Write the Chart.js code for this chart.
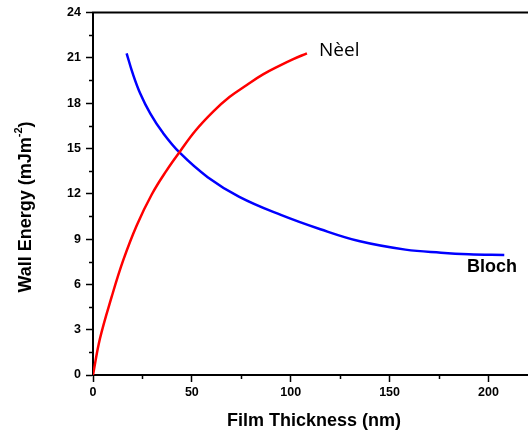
<!DOCTYPE html>
<html>
<head>
<meta charset="utf-8">
<script src="https://cdn.jsdelivr.net/npm/chart.js@4.4.1/dist/chart.umd.min.js"></script>
<style>
  html, body { margin: 0; padding: 0; background: #ffffff; }
  #wrap { width: 528px; height: 435px; position: relative; }
</style>
</head>
<body>
<div id="wrap"><canvas id="c" width="528" height="435"></canvas></div>
<script>
// ---- data ----
const neelThickness = [0, 3.5, 9.5, 15.3, 22.1, 29.7, 37, 44, 52, 60.9, 69, 77.8, 86, 94.7, 101, 108.2];
const neelEnergy    = [0, 2.4, 5.2, 7.6, 9.9, 11.95, 13.5, 14.8, 16.2, 17.45, 18.4, 19.2, 19.9, 20.5, 20.9, 21.3];
const blochThickness = [17, 20, 24, 29, 35, 44, 58, 74, 95, 115, 135, 158, 176, 190, 208];
const blochEnergy    = [21.3, 20.0, 18.6, 17.3, 16.1, 14.7, 13.1, 11.8, 10.6, 9.65, 8.85, 8.3, 8.1, 8.0, 7.95];
const xTickValues = [0, 50, 100, 150, 200];
const xMinorTicks = [25, 75, 125, 175];
const yTickValues = [0, 3, 6, 9, 12, 15, 18, 21, 24];
const yMinorTicks = [1.5, 4.5, 7.5, 10.5, 13.5, 16.5, 19.5, 22.5];
const seriesLabels = ['Nèel', 'Bloch'];
const xTitle = 'Film Thickness (nm)';
const yTitleMain = 'Wall Energy (mJm';
const yTitleSup = '-2';
const yTitleEnd = ')';

const toPts = (xs, ys) => xs.map((x, i) => ({ x: x, y: ys[i] }));

const decorPlugin = {
  id: 'decor',
  afterDraw(chart) {
    const ctx = chart.ctx;
    const ca = chart.chartArea;
    const xs = chart.scales.x, ys = chart.scales.y;
    ctx.save();
    // top frame line
    ctx.strokeStyle = '#000';
    ctx.lineWidth = 2;
    ctx.beginPath();
    ctx.moveTo(ca.left - 1, ca.top);
    ctx.lineTo(chart.width, ca.top);
    ctx.stroke();
    // minor ticks
    ctx.lineWidth = 1.5;
    ctx.beginPath();
    xMinorTicks.forEach(v => {
      const px = Math.round(xs.getPixelForValue(v)) + 0.5;
      ctx.moveTo(px, ca.bottom);
      ctx.lineTo(px, ca.bottom + 4);
    });
    yMinorTicks.forEach(v => {
      const py = Math.round(ys.getPixelForValue(v)) + 0.5;
      ctx.moveTo(ca.left, py);
      ctx.lineTo(ca.left - 4, py);
    });
    ctx.stroke();
    // x title
    ctx.fillStyle = '#000';
    ctx.font = 'bold 18px "Liberation Sans", Arial, sans-serif';
    ctx.textAlign = 'center';
    ctx.textBaseline = 'middle';
    ctx.fillText(xTitle, 314, 421);
    // y title with superscript
    ctx.translate(26, 207);
    ctx.rotate(-Math.PI / 2);
    const mainFont = 'bold 18px "Liberation Sans", Arial, sans-serif';
    const supFont = 'bold 11px "Liberation Sans", Arial, sans-serif';
    ctx.font = mainFont;
    const w1 = ctx.measureText(yTitleMain).width;
    const w3 = ctx.measureText(yTitleEnd).width;
    ctx.font = supFont;
    const w2 = ctx.measureText(yTitleSup).width;
    const total = w1 + w2 + w3;
    let sx = -total / 2;
    ctx.textAlign = 'left';
    ctx.textBaseline = 'middle';
    ctx.font = mainFont;
    ctx.fillText(yTitleMain, sx, 0);
    sx += w1;
    ctx.font = supFont;
    ctx.fillText(yTitleSup, sx, -7);
    sx += w2;
    ctx.font = mainFont;
    ctx.fillText(yTitleEnd, sx, 0);
    ctx.restore();

    // curve labels
    ctx.save();
    ctx.fillStyle = '#000';
    ctx.textBaseline = 'middle';
    ctx.textAlign = 'left';
    ctx.font = '19px "Open Sans", sans-serif';
    ctx.fillText(seriesLabels[0], 319, 51);
    ctx.font = 'bold 18px "Liberation Sans", Arial, sans-serif';
    ctx.fillText(seriesLabels[1], 467, 267);
    ctx.restore();
  }
};

new Chart(document.getElementById('c'), {
  type: 'scatter',
  data: {
    datasets: [
      {
        label: seriesLabels[0],
        data: toPts(neelThickness, neelEnergy),
        showLine: true,
        borderColor: '#ff0000',
        borderWidth: 2.5,
        pointRadius: 0,
        tension: 0.4,
        fill: false
      },
      {
        label: seriesLabels[1],
        data: toPts(blochThickness, blochEnergy),
        showLine: true,
        borderColor: '#0000ff',
        borderWidth: 2.5,
        pointRadius: 0,
        tension: 0.4,
        fill: false
      }
    ]
  },
  options: {
    responsive: false,
    animation: false,
    devicePixelRatio: 1,
    layout: { padding: { top: 11, right: 0, left: 0, bottom: 0 } },
    plugins: { legend: { display: false }, tooltip: { enabled: false } },
    scales: {
      x: {
        type: 'linear',
        min: 0,
        max: 220,
        afterBuildTicks: s => { s.ticks = xTickValues.map(v => ({ value: v })); },
        afterFit: s => { s.height = 60; },
        border: { display: true, color: '#000', width: 2 },
        grid: { display: true, drawOnChartArea: false, drawTicks: true, tickLength: 7, tickColor: '#000', tickWidth: 1.5 },
        ticks: {
          color: '#000',
          padding: 3,
          maxRotation: 0,
          autoSkip: false,
          font: { family: '"Liberation Sans", Arial, sans-serif', size: 12.5, weight: 'bold' }
        }
      },
      y: {
        type: 'linear',
        min: 0,
        max: 24,
        afterBuildTicks: s => { s.ticks = yTickValues.map(v => ({ value: v })); },
        afterFit: s => { s.width = 93; },
        border: { display: true, color: '#000', width: 2 },
        grid: { display: true, drawOnChartArea: false, drawTicks: true, tickLength: 7, tickColor: '#000', tickWidth: 1.5 },
        ticks: {
          color: '#000',
          padding: 5,
          autoSkip: false,
          font: { family: '"Liberation Sans", Arial, sans-serif', size: 12.5, weight: 'bold' }
        }
      }
    }
  },
  plugins: [decorPlugin]
});
</script>
</body>
</html>
